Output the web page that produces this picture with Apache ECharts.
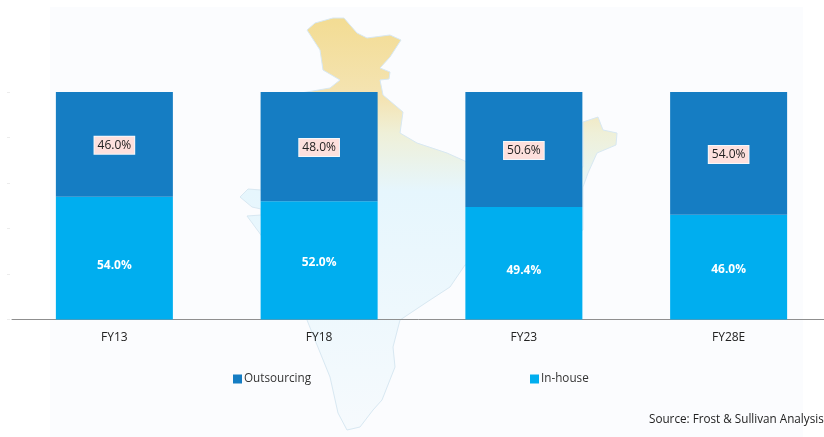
<!DOCTYPE html>
<html>
<head>
<meta charset="utf-8">
<script src="https://cdn.jsdelivr.net/npm/echarts@6/dist/echarts.min.js"></script>
<style>html,body{margin:0;padding:0;background:#fff}#c{width:824px;height:437px}</style>
</head>
<body>
<div id="c"></div>
<script>
const categories = ['FY13', 'FY18', 'FY23', 'FY28E'];
const inHouse = [54.0, 52.0, 49.4, 46.0];
const outsourcing = [46.0, 48.0, 50.6, 54.0];
const inHouseLabelShift = [8, 2, 7, 2];
const sourceText = 'Source: Frost & Sullivan Analysis';
const font = '"Open Sans", sans-serif';

const mapOutline = [[307,30],[315,23],[333,18],[344,18],[350,25],[357,33],[367,38],[390,35],[401,40],[390,57],[380,68],[390,72],[389,79],[380,80],[383,95],[403,112],[400,133],[417,143],[447,153],[467,162],[583,167],[583,122],[598,117],[603,130],[617,133],[616,145],[597,153],[588,173],[583,187],[583,230],[465,265],[450,287],[427,302],[400,320],[393,347],[395,367],[382,400],[373,410],[360,427],[347,430],[338,413],[330,377],[315,340],[307,320],[261,235],[247,216],[261,215],[261,209],[252,207],[240,197],[248,189],[261,190],[261,100],[330,88],[340,80],[323,70],[320,50]];
const chart = echarts.init(document.getElementById('c'), null, {renderer: 'canvas'});
chart.setOption({
  animation: false,
  backgroundColor: '#ffffff',
  graphic: [
    {type: 'rect', z: -10, shape: {x: 50, y: 7, width: 753, height: 430}, style: {fill: '#fbfcfe'}},
    {type: 'polygon', z: -9, shape: {points: mapOutline}, style: {
      fill: {type: 'linear', x: 0, y: 0, x2: 0, y2: 1, colorStops: [
        {offset: 0, color: '#f3dc93'},
        {offset: 0.2, color: '#f4e4b4'},
        {offset: 0.28, color: '#eff0d8'},
        {offset: 0.42, color: '#e6f6fd'},
        {offset: 1, color: '#f6fafd'}]},
      stroke: '#d8e8f2', lineWidth: 1}},
    {type: 'text', left: 649, top: 414, style: {text: sourceText, font: '11.7px ' + font, fill: '#222222'}}
  ],
  legend: [
    {left: 228, top: 368, icon: 'rect', itemWidth: 9, itemHeight: 9, itemGap: 3, data: ['Outsourcing'], textStyle: {fontFamily: font, fontSize: 11.7, color: '#333333', padding: [0, 0, 0, -3]}},
    {left: 525, top: 368, icon: 'rect', itemWidth: 9, itemHeight: 9, itemGap: 3, data: ['In-house'], textStyle: {fontFamily: font, fontSize: 11.7, color: '#333333', padding: [0, 0, 0, -3]}}
  ],
  grid: {left: 12, width: 819, top: 92, height: 227.5, outerBoundsMode: 'none'},
  xAxis: {
    type: 'category', data: categories,
    axisLine: {lineStyle: {color: '#8f8f8f', width: 1}},
    axisTick: {show: false},
    axisLabel: {fontFamily: font, fontSize: 12, color: '#222222', margin: 12}
  },
  yAxis: {
    type: 'value', min: 0, max: 100, interval: 20, offset: 2,
    axisLine: {show: false},
    axisTick: {show: true, length: 3, lineStyle: {color: '#ececec'}},
    axisLabel: {show: false},
    splitLine: {show: false}
  },
  series: [
    {
      name: 'In-house', type: 'bar', stack: 't', barWidth: 117,
      itemStyle: {color: '#00aeef'},
      data: inHouse.map((v, i) => ({value: v, label: {offset: [0, inHouseLabelShift[i]]}})),
      label: {show: true, position: 'inside', formatter: p => p.value.toFixed(1) + '%', color: '#ffffff', fontFamily: font, fontWeight: 'bold', fontSize: 12}
    },
    {
      name: 'Outsourcing', type: 'bar', stack: 't', barWidth: 117,
      itemStyle: {color: '#157dc3'},
      data: outsourcing,
      label: {show: true, position: 'inside', offset: [0, 1], formatter: p => p.value.toFixed(1) + '%', color: '#222222', fontFamily: font, fontSize: 12,
        backgroundColor: '#fde0dd', borderColor: '#f4f8fb', borderWidth: 1, padding: [3, 3, 2, 3]}
    }
  ]
});
</script>
</body>
</html>
